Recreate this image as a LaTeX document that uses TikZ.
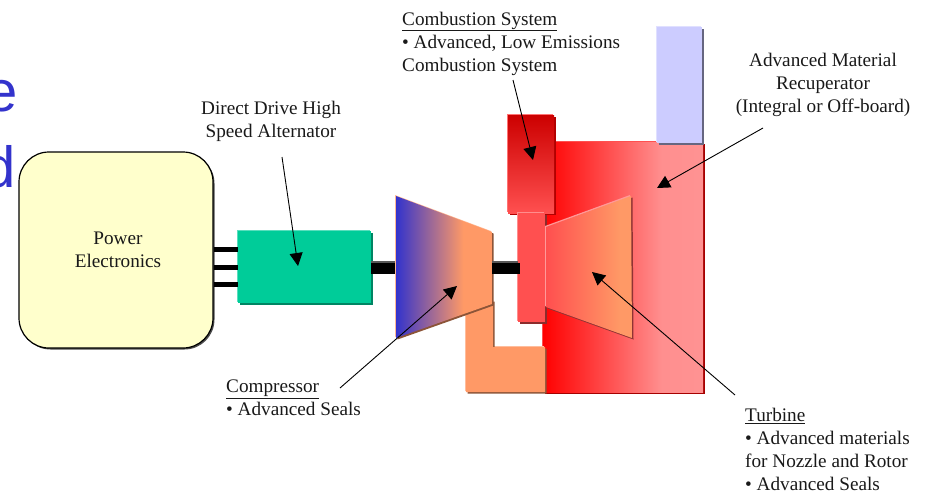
\documentclass[tikz,border=0pt]{standalone}
\usepackage{fontspec}
\setmainfont{Liberation Serif}
\newfontfamily\titlefont{Liberation Sans}
\usetikzlibrary{arrows.meta,shadows}

\definecolor{titleblue}{HTML}{3333CC}
\definecolor{cream}{HTML}{FFFFCC}
\definecolor{teal}{HTML}{00CC99}
\definecolor{peach}{HTML}{FF9966}
\definecolor{lilac}{HTML}{CCCCFF}
\definecolor{coral}{HTML}{FF5050}
\definecolor{pinkred}{HTML}{FF9999}
\definecolor{deepred}{HTML}{CC0000}

\pgfdeclarehorizontalshading{compfade}{100bp}{rgb(0bp)=(0.2,0.2,0.8); rgb(25bp)=(0.2,0.2,0.8); rgb(60bp)=(1,0.6,0.4); rgb(100bp)=(1,0.6,0.4)}
\pgfdeclarehorizontalshading{turbfade}{100bp}{rgb(0bp)=(1,0.31,0.31); rgb(25bp)=(1,0.31,0.31); rgb(68bp)=(1,0.6,0.4); rgb(100bp)=(1,0.6,0.4)}
\pgfdeclarehorizontalshading{recupfade}{100bp}{rgb(0bp)=(1,0,0); rgb(25bp)=(1,0,0); rgb(62bp)=(1,0.56,0.56); rgb(100bp)=(1,0.6,0.6)}

\tikzset{
  bevel/.style 2 args={
    general shadow={shadow xshift=-1pt,shadow yshift=1pt,fill=#1},
    general shadow={shadow xshift=1.5pt,shadow yshift=-1.5pt,fill=#2}},
  label/.style={font=\fontsize{19.2}{23}\selectfont,inner sep=0pt,text=black!90},
  pointer/.style={-{Triangle[length=13pt,width=13pt]},line width=0.9pt},
  wire/.style={line width=5pt},
  shaft/.style={line width=11pt}
}

\begin{document}
\begin{tikzpicture}[x=1pt,y=-1pt]
\useasboundingbox (0,0) rectangle (927,493);

% cut off title
\node[anchor=base east,inner sep=0pt,text=titleblue,font=\titlefont\fontsize{58}{58}\selectfont] (titlee) at (18,111.5) {e};
\node[anchor=base east,inner sep=0pt,text=titleblue,font=\titlefont\fontsize{58}{58}\selectfont] (titled) at (15.5,187.5) {d};

\node[draw=black,line width=1.2pt,fill=cream,rounded corners=30pt,minimum width=194pt,minimum height=196pt,
  general shadow={shadow xshift=1.5pt,shadow yshift=-1.5pt,fill=black!70}] (powerbox) at (116,250) {};
\node[label,align=center] (powerlabel) at (118,250) {Power\\Electronics};

\node[fill=teal,minimum width=133pt,minimum height=72pt,inner sep=0pt,bevel={teal!65!white}{teal!65!black}] (alternator) at (304.5,267) {};

\foreach \offs in {17.5,0,-17.5}
  \draw[wire] ([yshift=\offs pt]alternator.west) -- ([yshift=\offs pt]alternator.west -| powerbox.east);

\coordinate (a) at (396,196);
\coordinate (b) at (492,232);
\coordinate (c) at (492,304);
\coordinate (d) at (396,338);

\coordinate (e) at (546,227);
\coordinate (f) at (631,196);
\coordinate (g) at (632,338);
\coordinate (h) at (546,307);

% recuperator
\shade[shading=recupfade,bevel={coral}{red!65!black}] (543,142) rectangle (703,392);
\path[fill=lilac,bevel={lilac!60!white}{lilac!50!black}] (657,27) rectangle (702,143);

% duct
\path[fill=peach,bevel={peach!65!white}{peach!55!black}] (466,300) -- (493,300) -- (493,347) -- (545,347) -- (545,392) -- (466,392) -- cycle;

% compressor and shaft
\draw[shaft] ([yshift=-1.5pt]alternator.east) -- ++(24,0) coordinate (s1);
\draw[black!65,line width=1.5pt] (alternator.east |- 0,262) -- (s1 |- 0,262);
\shade[shading=compfade,bevel={peach!70!white}{peach!55!black}] (a) -- (b) -- (c) -- (d) -- cycle;

% combustor
\shade[top color=deepred,bottom color=coral,bevel={coral!80!white}{red!70!black}] (508,115) rectangle (554,213);
\path[fill=coral,bevel={coral!65!white}{coral!55!black}] (518,213) rectangle (545,322);
\draw[shaft] (c |- 0,268) -- (520,268);
\draw[black!65,line width=1.5pt] (c |- 0,262) -- (518,262);

% turbine
\shade[shading=turbfade,bevel={pinkred}{red!45!black!80}] (e) -- (f) -- (g) -- (h) -- cycle;

% labels
\node[label,align=center] (altlabel) at (271,121) {Direct Drive High\\Speed Alternator};
\node[label,align=left,anchor=north west] (comblabel) at (402,11.5) {\underline{Combustion System}\\• Advanced, Low Emissions\\Combustion System};
\node[label,align=center] (recuplabel) at (823,85) {Advanced Material\\Recuperator\\(Integral or Off-board)};
\node[label,align=left,anchor=north west] (complabel) at (226,379.5) {\underline{Compressor}\\• Advanced Seals};
\node[label,align=left,anchor=north west] (turblabel) at (745,408) {\underline{Turbine}\\• Advanced materials\\for Nozzle and Rotor\\• Advanced Seals};

\coordinate (altstart) at (282,157);
\coordinate (altend) at (298,266);
\coordinate (combstart) at (513,80);
\coordinate (combend) at (533,160);
\coordinate (recupstart) at (763,128);
\coordinate (recupend) at (657,188);
\coordinate (compstart) at (340,388);
\coordinate (compend) at (457,286);
\coordinate (turbstart) at (735,395);
\coordinate (turbend) at (592,272);

\draw[pointer] (altstart) -- (altend);
\draw[pointer] (combstart) -- (combend);
\draw[pointer] (recupstart) -- (recupend);
\draw[pointer] (compstart) -- (compend);
\draw[pointer] (turbstart) -- (turbend);

\end{tikzpicture}
\end{document}
